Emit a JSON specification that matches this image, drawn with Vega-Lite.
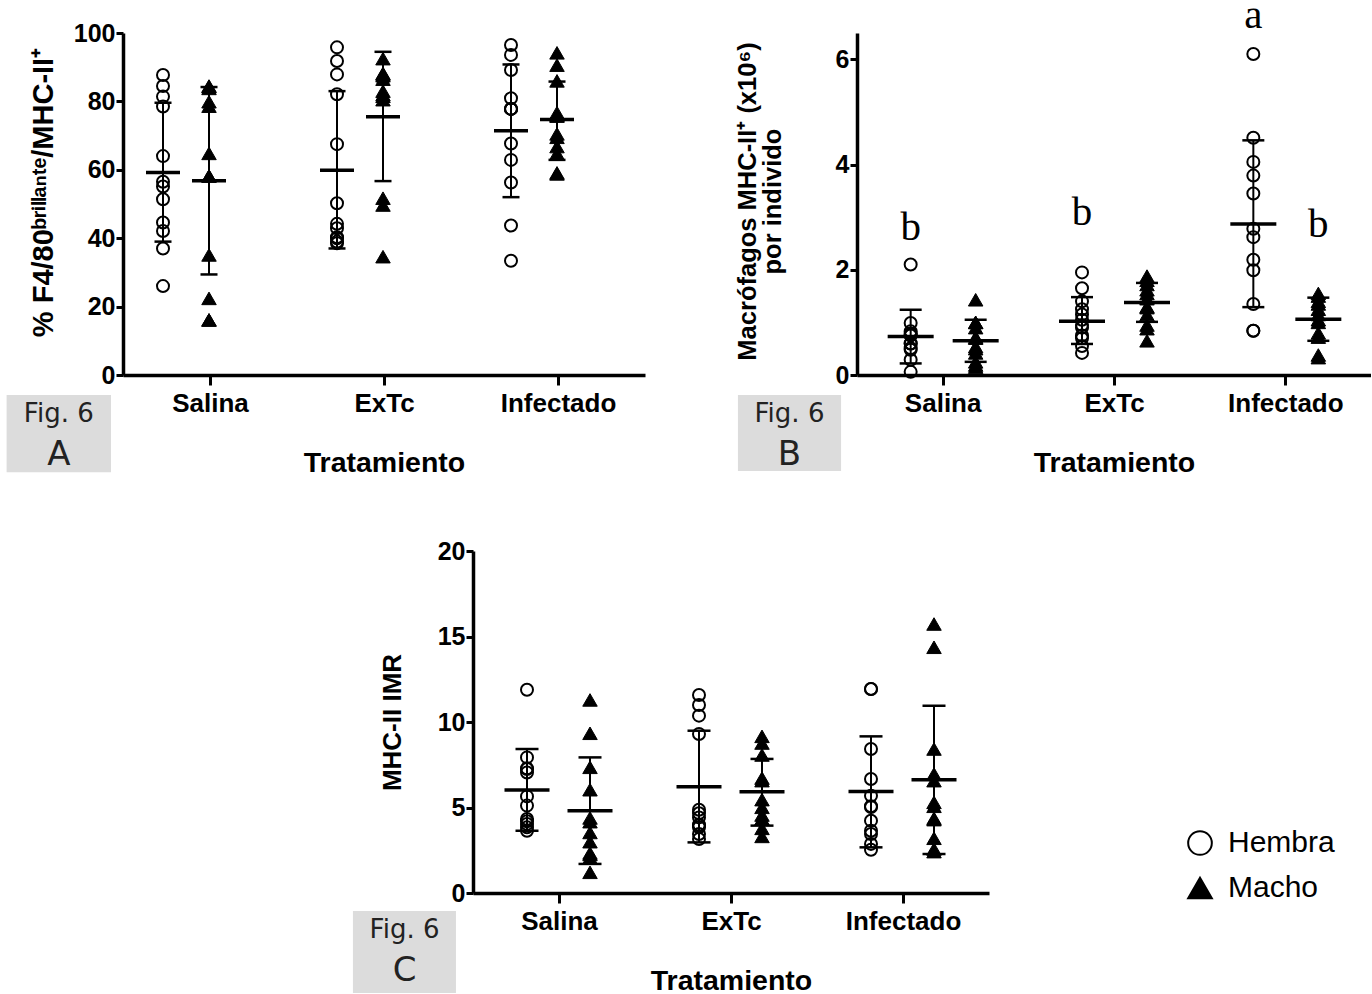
{
  "$schema": "https://vega.github.io/schema/vega-lite/v6.json",
  "background": "white",
  "autosize": {"type": "pad"},
  "padding": {"left": 6, "top": -5, "right": 0, "bottom": 0},
  "config": {
    "view": {"stroke": null},
    "axis": {"domainColor": "black", "domainWidth": 3.5, "tickColor": "black", "tickWidth": 3, "grid": false,
      "labelFont": "Liberation Sans", "labelFontWeight": "bold", "labelColor": "black",
      "titleFont": "Liberation Sans", "titleFontWeight": "bold", "titleColor": "black", "labelFlush": false, "labelOverlap": false},
    "axisX": {"tickSize": 10, "labelFontSize": 26, "labelPadding": 5, "titleFontSize": 28.5, "titlePadding": 32, "labelAngle": 0},
    "axisY": {"tickSize": 7, "labelFontSize": 25, "labelPadding": 1, "titleFontSize": 26}
  },
  "datasets": {
    "ptsA": [
      {"g":1,"sex":"Hembra","v":87.7},{"g":1,"sex":"Hembra","v":84.5},{"g":1,"sex":"Hembra","v":81.4},{"g":1,"sex":"Hembra","v":78.5},{"g":1,"sex":"Hembra","v":64.0},{"g":1,"sex":"Hembra","v":56.5},{"g":1,"sex":"Hembra","v":55.1},{"g":1,"sex":"Hembra","v":51.4},{"g":1,"sex":"Hembra","v":44.6},{"g":1,"sex":"Hembra","v":42.1},{"g":1,"sex":"Hembra","v":37.0},{"g":1,"sex":"Hembra","v":26.0},
      {"g":1,"sex":"Macho","v":84.5},{"g":1,"sex":"Macho","v":84.3},{"g":1,"sex":"Macho","v":83.8},{"g":1,"sex":"Macho","v":79.9},{"g":1,"sex":"Macho","v":78.6},{"g":1,"sex":"Macho","v":64.8},{"g":1,"sex":"Macho","v":58.2},{"g":1,"sex":"Macho","v":58.2},{"g":1,"sex":"Macho","v":35.1},{"g":1,"sex":"Macho","v":22.4},{"g":1,"sex":"Macho","v":16.1},{"g":1,"sex":"Macho","v":16.1},
      {"g":2,"sex":"Hembra","v":95.8},{"g":2,"sex":"Hembra","v":91.8},{"g":2,"sex":"Hembra","v":87.9},{"g":2,"sex":"Hembra","v":82.1},{"g":2,"sex":"Hembra","v":67.5},{"g":2,"sex":"Hembra","v":50.2},{"g":2,"sex":"Hembra","v":44.2},{"g":2,"sex":"Hembra","v":42.9},{"g":2,"sex":"Hembra","v":40.3},{"g":2,"sex":"Hembra","v":40.0},{"g":2,"sex":"Hembra","v":39.0},{"g":2,"sex":"Hembra","v":38.5},
      {"g":2,"sex":"Macho","v":92.5},{"g":2,"sex":"Macho","v":88.2},{"g":2,"sex":"Macho","v":88.0},{"g":2,"sex":"Macho","v":87.5},{"g":2,"sex":"Macho","v":86.5},{"g":2,"sex":"Macho","v":83.0},{"g":2,"sex":"Macho","v":82.0},{"g":2,"sex":"Macho","v":81.5},{"g":2,"sex":"Macho","v":80.5},{"g":2,"sex":"Macho","v":51.7},{"g":2,"sex":"Macho","v":49.7},{"g":2,"sex":"Macho","v":34.6},
      {"g":3,"sex":"Hembra","v":96.5},{"g":3,"sex":"Hembra","v":93.6},{"g":3,"sex":"Hembra","v":89.2},{"g":3,"sex":"Hembra","v":80.9},{"g":3,"sex":"Hembra","v":77.8},{"g":3,"sex":"Hembra","v":77.8},{"g":3,"sex":"Hembra","v":77.8},{"g":3,"sex":"Hembra","v":67.7},{"g":3,"sex":"Hembra","v":62.9},{"g":3,"sex":"Hembra","v":56.3},{"g":3,"sex":"Hembra","v":43.7},{"g":3,"sex":"Hembra","v":33.4},
      {"g":3,"sex":"Macho","v":94.2},{"g":3,"sex":"Macho","v":90.6},{"g":3,"sex":"Macho","v":86.0},{"g":3,"sex":"Macho","v":76.7},{"g":3,"sex":"Macho","v":75.9},{"g":3,"sex":"Macho","v":75.7},{"g":3,"sex":"Macho","v":70.5},{"g":3,"sex":"Macho","v":69.5},{"g":3,"sex":"Macho","v":66.8},{"g":3,"sex":"Macho","v":64.8},{"g":3,"sex":"Macho","v":59.1},{"g":3,"sex":"Macho","v":58.8}
    ],
    "sumA": [
      {"g":1,"sex":"Hembra","mean":59.2,"lo":39.0,"hi":79.6},
      {"g":1,"sex":"Macho","mean":56.8,"lo":29.4,"hi":84.2},
      {"g":2,"sex":"Hembra","mean":59.9,"lo":37.0,"hi":83.0},
      {"g":2,"sex":"Macho","mean":75.5,"lo":56.7,"hi":94.5},
      {"g":3,"sex":"Hembra","mean":71.4,"lo":52.0,"hi":90.8},
      {"g":3,"sex":"Macho","mean":74.7,"lo":62.9,"hi":85.8}
    ],
    "ptsB": [
      {"g":1,"sex":"Hembra","v":2.10},{"g":1,"sex":"Hembra","v":0.99},{"g":1,"sex":"Hembra","v":0.83},{"g":1,"sex":"Hembra","v":0.79},{"g":1,"sex":"Hembra","v":0.76},{"g":1,"sex":"Hembra","v":0.75},{"g":1,"sex":"Hembra","v":0.60},{"g":1,"sex":"Hembra","v":0.60},{"g":1,"sex":"Hembra","v":0.51},{"g":1,"sex":"Hembra","v":0.48},{"g":1,"sex":"Hembra","v":0.29},{"g":1,"sex":"Hembra","v":0.06},
      {"g":1,"sex":"Macho","v":1.43},{"g":1,"sex":"Macho","v":1.00},{"g":1,"sex":"Macho","v":1.00},{"g":1,"sex":"Macho","v":0.90},{"g":1,"sex":"Macho","v":0.72},{"g":1,"sex":"Macho","v":0.70},{"g":1,"sex":"Macho","v":0.54},{"g":1,"sex":"Macho","v":0.50},{"g":1,"sex":"Macho","v":0.42},{"g":1,"sex":"Macho","v":0.25},{"g":1,"sex":"Macho","v":0.19},{"g":1,"sex":"Macho","v":0.15},
      {"g":2,"sex":"Hembra","v":1.95},{"g":2,"sex":"Hembra","v":1.65},{"g":2,"sex":"Hembra","v":1.40},{"g":2,"sex":"Hembra","v":1.25},{"g":2,"sex":"Hembra","v":1.15},{"g":2,"sex":"Hembra","v":1.05},{"g":2,"sex":"Hembra","v":0.95},{"g":2,"sex":"Hembra","v":0.90},{"g":2,"sex":"Hembra","v":0.75},{"g":2,"sex":"Hembra","v":0.70},{"g":2,"sex":"Hembra","v":0.55},{"g":2,"sex":"Hembra","v":0.42},
      {"g":2,"sex":"Macho","v":1.88},{"g":2,"sex":"Macho","v":1.80},{"g":2,"sex":"Macho","v":1.72},{"g":2,"sex":"Macho","v":1.62},{"g":2,"sex":"Macho","v":1.55},{"g":2,"sex":"Macho","v":1.45},{"g":2,"sex":"Macho","v":1.30},{"g":2,"sex":"Macho","v":1.28},{"g":2,"sex":"Macho","v":1.15},{"g":2,"sex":"Macho","v":0.95},{"g":2,"sex":"Macho","v":0.88},{"g":2,"sex":"Macho","v":0.65},
      {"g":3,"sex":"Hembra","v":6.10},{"g":3,"sex":"Hembra","v":4.51},{"g":3,"sex":"Hembra","v":4.05},{"g":3,"sex":"Hembra","v":3.79},{"g":3,"sex":"Hembra","v":3.45},{"g":3,"sex":"Hembra","v":2.78},{"g":3,"sex":"Hembra","v":2.62},{"g":3,"sex":"Hembra","v":2.19},{"g":3,"sex":"Hembra","v":1.99},{"g":3,"sex":"Hembra","v":1.35},{"g":3,"sex":"Hembra","v":0.84},{"g":3,"sex":"Hembra","v":0.84},
      {"g":3,"sex":"Macho","v":1.55},{"g":3,"sex":"Macho","v":1.50},{"g":3,"sex":"Macho","v":1.40},{"g":3,"sex":"Macho","v":1.35},{"g":3,"sex":"Macho","v":1.25},{"g":3,"sex":"Macho","v":1.15},{"g":3,"sex":"Macho","v":1.05},{"g":3,"sex":"Macho","v":1.00},{"g":3,"sex":"Macho","v":0.80},{"g":3,"sex":"Macho","v":0.72},{"g":3,"sex":"Macho","v":0.38},{"g":3,"sex":"Macho","v":0.33}
    ],
    "sumB": [
      {"g":1,"sex":"Hembra","mean":0.73,"lo":0.22,"hi":1.24},
      {"g":1,"sex":"Macho","mean":0.65,"lo":0.25,"hi":1.05},
      {"g":2,"sex":"Hembra","mean":1.02,"lo":0.59,"hi":1.48},
      {"g":2,"sex":"Macho","mean":1.38,"lo":1.01,"hi":1.75},
      {"g":3,"sex":"Hembra","mean":2.87,"lo":1.29,"hi":4.46},
      {"g":3,"sex":"Macho","mean":1.06,"lo":0.65,"hi":1.47}
    ],
    "letB": [
      {"g":1,"sex":"Hembra","v":2.57,"t":"b"},
      {"g":2,"sex":"Hembra","v":2.86,"t":"b"},
      {"g":3,"sex":"Hembra","v":6.59,"t":"a"},
      {"g":3,"sex":"Macho","v":2.63,"t":"b"}
    ],
    "ptsC": [
      {"g":1,"sex":"Hembra","v":11.89},{"g":1,"sex":"Hembra","v":7.93},{"g":1,"sex":"Hembra","v":7.29},{"g":1,"sex":"Hembra","v":7.25},{"g":1,"sex":"Hembra","v":7.05},{"g":1,"sex":"Hembra","v":5.65},{"g":1,"sex":"Hembra","v":5.11},{"g":1,"sex":"Hembra","v":4.33},{"g":1,"sex":"Hembra","v":4.20},{"g":1,"sex":"Hembra","v":4.04},{"g":1,"sex":"Hembra","v":3.84},{"g":1,"sex":"Hembra","v":3.64},
      {"g":1,"sex":"Macho","v":11.29},{"g":1,"sex":"Macho","v":9.34},{"g":1,"sex":"Macho","v":7.35},{"g":1,"sex":"Macho","v":6.04},{"g":1,"sex":"Macho","v":4.39},{"g":1,"sex":"Macho","v":4.17},{"g":1,"sex":"Macho","v":3.54},{"g":1,"sex":"Macho","v":3.00},{"g":1,"sex":"Macho","v":2.34},{"g":1,"sex":"Macho","v":2.25},{"g":1,"sex":"Macho","v":2.06},{"g":1,"sex":"Macho","v":1.21},
      {"g":2,"sex":"Hembra","v":11.58},{"g":2,"sex":"Hembra","v":10.99},{"g":2,"sex":"Hembra","v":10.37},{"g":2,"sex":"Hembra","v":9.30},{"g":2,"sex":"Hembra","v":4.87},{"g":2,"sex":"Hembra","v":4.66},{"g":2,"sex":"Hembra","v":4.42},{"g":2,"sex":"Hembra","v":4.00},{"g":2,"sex":"Hembra","v":3.95},{"g":2,"sex":"Hembra","v":3.84},{"g":2,"sex":"Hembra","v":3.45},{"g":2,"sex":"Hembra","v":3.16},
      {"g":2,"sex":"Macho","v":9.16},{"g":2,"sex":"Macho","v":8.77},{"g":2,"sex":"Macho","v":8.07},{"g":2,"sex":"Macho","v":6.72},{"g":2,"sex":"Macho","v":6.57},{"g":2,"sex":"Macho","v":5.46},{"g":2,"sex":"Macho","v":5.01},{"g":2,"sex":"Macho","v":4.56},{"g":2,"sex":"Macho","v":4.33},{"g":2,"sex":"Macho","v":4.33},{"g":2,"sex":"Macho","v":3.78},{"g":2,"sex":"Macho","v":3.31},
      {"g":3,"sex":"Hembra","v":11.93},{"g":3,"sex":"Hembra","v":11.93},{"g":3,"sex":"Hembra","v":8.42},{"g":3,"sex":"Hembra","v":6.67},{"g":3,"sex":"Hembra","v":5.69},{"g":3,"sex":"Hembra","v":5.07},{"g":3,"sex":"Hembra","v":5.03},{"g":3,"sex":"Hembra","v":4.23},{"g":3,"sex":"Hembra","v":3.64},{"g":3,"sex":"Hembra","v":3.45},{"g":3,"sex":"Hembra","v":2.87},{"g":3,"sex":"Hembra","v":2.53},
      {"g":3,"sex":"Macho","v":15.73},{"g":3,"sex":"Macho","v":14.37},{"g":3,"sex":"Macho","v":8.42},{"g":3,"sex":"Macho","v":6.96},{"g":3,"sex":"Macho","v":6.57},{"g":3,"sex":"Macho","v":5.30},{"g":3,"sex":"Macho","v":5.07},{"g":3,"sex":"Macho","v":4.37},{"g":3,"sex":"Macho","v":4.29},{"g":3,"sex":"Macho","v":3.20},{"g":3,"sex":"Macho","v":2.57},{"g":3,"sex":"Macho","v":2.42}
    ],
    "sumC": [
      {"g":1,"sex":"Hembra","mean":6.02,"lo":3.64,"hi":8.42},
      {"g":1,"sex":"Macho","mean":4.81,"lo":1.70,"hi":7.93},
      {"g":2,"sex":"Hembra","mean":6.22,"lo":2.96,"hi":9.49},
      {"g":2,"sex":"Macho","mean":5.92,"lo":3.94,"hi":7.84},
      {"g":3,"sex":"Hembra","mean":5.94,"lo":2.67,"hi":9.16},
      {"g":3,"sex":"Macho","mean":6.63,"lo":2.28,"hi":10.95}
    ]
  },
  "bounds": "full",
  "spacing": 62,
  "resolve": {"scale": {"shape": "independent", "fill": "independent", "stroke": "independent"}, "legend": {"shape": "independent", "fill": "independent", "stroke": "independent"}},
  "vconcat": [
    {
      "bounds": "flush",
      "spacing": 212,
      "resolve": {"scale": {"shape": "independent", "fill": "independent", "stroke": "independent"}, "legend": {"shape": "independent", "fill": "independent", "stroke": "independent"}},
      "hconcat": [
        {
          "width": 522, "height": 342,
          "layer": [
            {"data": {"name": "ptsA"}, "transform": [{"filter": "datum.sex == 'Hembra'"}],
             "mark": {"type": "point", "size": 144, "strokeWidth": 2, "opacity": 1, "xOffset": -47},
             "encoding": {
               "x": {"field": "g", "type": "quantitative", "scale": {"domain": [0.5, 3.5], "nice": false, "zero": false},
                     "axis": {"title": "Tratamiento", "values": [1, 2, 3], "labelExpr": "datum.value == 1 ? 'Salina' : datum.value == 2 ? 'ExTc' : 'Infectado'"}},
               "y": {"field": "v", "type": "quantitative", "scale": {"domain": [0, 100], "nice": false},
                     "axis": {"title": "% F4/80ᵇʳⁱˡˡᵃⁿᵗᵉ/MHC-II⁺", "titleFontSize": 29, "values": [0, 20, 40, 60, 80, 100], "titleX": -80, "titleY": 159, "titleAngle": 270, "titleAlign": "center", "titleBaseline": "middle"}},
               "shape": {"field": "sex", "type": "nominal", "scale": {"domain": ["Hembra", "Macho"], "range": ["circle", "triangle-up"]}, "legend": null},
               "fill": {"field": "sex", "type": "nominal", "scale": {"domain": ["Hembra", "Macho"], "range": ["transparent", "black"]}, "legend": null},
               "stroke": {"field": "sex", "type": "nominal", "scale": {"domain": ["Hembra", "Macho"], "range": ["black", "black"]}, "legend": null}
             }},
            {"data": {"name": "ptsA"}, "transform": [{"filter": "datum.sex == 'Macho'"}],
             "mark": {"type": "point", "size": 210, "strokeWidth": 1, "opacity": 1, "xOffset": -1},
             "encoding": {
               "x": {"field": "g", "type": "quantitative"},
               "y": {"field": "v", "type": "quantitative"},
               "shape": {"field": "sex", "type": "nominal", "legend": null},
               "fill": {"field": "sex", "type": "nominal", "legend": null},
               "stroke": {"field": "sex", "type": "nominal", "legend": null}
             }},
            {"data": {"name": "sumA"}, "transform": [{"filter": "datum.sex == 'Hembra'"}],
             "encoding": {"x": {"field": "g", "type": "quantitative"}},
             "layer": [
               {"mark": {"type": "rule", "color": "black", "strokeWidth": 2, "xOffset": -47}, "encoding": {"y": {"field": "lo", "type": "quantitative"}, "y2": {"field": "hi"}}},
               {"mark": {"type": "tick", "orient": "horizontal", "color": "black", "opacity": 1, "size": 34, "thickness": 3.5, "xOffset": -47}, "encoding": {"y": {"field": "mean", "type": "quantitative"}}},
               {"mark": {"type": "tick", "orient": "horizontal", "color": "black", "opacity": 1, "size": 17, "thickness": 2.5, "xOffset": -47}, "encoding": {"y": {"field": "lo", "type": "quantitative"}}},
               {"mark": {"type": "tick", "orient": "horizontal", "color": "black", "opacity": 1, "size": 17, "thickness": 2.5, "xOffset": -47}, "encoding": {"y": {"field": "hi", "type": "quantitative"}}}
             ]},
            {"data": {"name": "sumA"}, "transform": [{"filter": "datum.sex == 'Macho'"}],
             "encoding": {"x": {"field": "g", "type": "quantitative"}},
             "layer": [
               {"mark": {"type": "rule", "color": "black", "strokeWidth": 2, "xOffset": -1}, "encoding": {"y": {"field": "lo", "type": "quantitative"}, "y2": {"field": "hi"}}},
               {"mark": {"type": "tick", "orient": "horizontal", "color": "black", "opacity": 1, "size": 34, "thickness": 3.5, "xOffset": -1}, "encoding": {"y": {"field": "mean", "type": "quantitative"}}},
               {"mark": {"type": "tick", "orient": "horizontal", "color": "black", "opacity": 1, "size": 17, "thickness": 2.5, "xOffset": -1}, "encoding": {"y": {"field": "lo", "type": "quantitative"}}},
               {"mark": {"type": "tick", "orient": "horizontal", "color": "black", "opacity": 1, "size": 17, "thickness": 2.5, "xOffset": -1}, "encoding": {"y": {"field": "hi", "type": "quantitative"}}}
             ]},
            {"data": {"values": [{}]}, "mark": {"type": "rect", "fill": "#dcdcdc"},
             "encoding": {"x": {"datum": -0.169, "type": "quantitative"}, "x2": {"datum": 0.431}, "y": {"datum": -5.85, "type": "quantitative"}, "y2": {"datum": -28.4}}},
            {"data": {"values": [{}]}, "mark": {"type": "text", "text": "Fig. 6", "font": "DejaVu Sans", "fontSize": 26, "fill": "#222", "align": "center", "baseline": "alphabetic"},
             "encoding": {"x": {"datum": 0.131, "type": "quantitative"}, "y": {"datum": -13.65, "type": "quantitative"}}},
            {"data": {"values": [{}]}, "mark": {"type": "text", "text": "A", "font": "DejaVu Sans", "fontSize": 34, "fill": "#222", "align": "center", "baseline": "alphabetic"},
             "encoding": {"x": {"datum": 0.131, "type": "quantitative"}, "y": {"datum": -26.3, "type": "quantitative"}}}
          ]
        },
        {
          "width": 514, "height": 342,
          "layer": [
            {"data": {"name": "ptsB"}, "transform": [{"filter": "datum.sex == 'Hembra'"}],
             "mark": {"type": "point", "size": 144, "strokeWidth": 2, "opacity": 1, "xOffset": -32},
             "encoding": {
               "x": {"field": "g", "type": "quantitative", "scale": {"domain": [0.5, 3.5], "nice": false, "zero": false},
                     "axis": {"title": "Tratamiento", "values": [1, 2, 3], "labelExpr": "datum.value == 1 ? 'Salina' : datum.value == 2 ? 'ExTc' : 'Infectado'"}},
               "y": {"field": "v", "type": "quantitative", "scale": {"domain": [0, 6.5], "nice": false},
                     "axis": {"title": ["Macrófagos MHC-II⁺ (x10⁶)", "por individo"], "titleFontSize": 25.5, "values": [0, 2, 4, 6], "titleX": -110, "titleY": 168, "titleAngle": 270, "titleAlign": "center", "titleBaseline": "middle", "titleLineHeight": 25}},
               "shape": {"field": "sex", "type": "nominal", "scale": {"domain": ["Hembra", "Macho"], "range": ["circle", "triangle-up"]}, "legend": null},
               "fill": {"field": "sex", "type": "nominal", "scale": {"domain": ["Hembra", "Macho"], "range": ["transparent", "black"]}, "legend": null},
               "stroke": {"field": "sex", "type": "nominal", "scale": {"domain": ["Hembra", "Macho"], "range": ["black", "black"]}, "legend": null}
             }},
            {"data": {"name": "ptsB"}, "transform": [{"filter": "datum.sex == 'Macho'"}],
             "mark": {"type": "point", "size": 210, "strokeWidth": 1, "opacity": 1, "xOffset": 33},
             "encoding": {
               "x": {"field": "g", "type": "quantitative"},
               "y": {"field": "v", "type": "quantitative"},
               "shape": {"field": "sex", "type": "nominal", "legend": null},
               "fill": {"field": "sex", "type": "nominal", "legend": null},
               "stroke": {"field": "sex", "type": "nominal", "legend": null}
             }},
            {"data": {"name": "sumB"}, "transform": [{"filter": "datum.sex == 'Hembra'"}],
             "encoding": {"x": {"field": "g", "type": "quantitative"}},
             "layer": [
               {"mark": {"type": "rule", "color": "black", "strokeWidth": 2, "xOffset": -32}, "encoding": {"y": {"field": "lo", "type": "quantitative"}, "y2": {"field": "hi"}}},
               {"mark": {"type": "tick", "orient": "horizontal", "color": "black", "opacity": 1, "size": 46, "thickness": 3.5, "xOffset": -32}, "encoding": {"y": {"field": "mean", "type": "quantitative"}}},
               {"mark": {"type": "tick", "orient": "horizontal", "color": "black", "opacity": 1, "size": 22, "thickness": 2.5, "xOffset": -32}, "encoding": {"y": {"field": "lo", "type": "quantitative"}}},
               {"mark": {"type": "tick", "orient": "horizontal", "color": "black", "opacity": 1, "size": 22, "thickness": 2.5, "xOffset": -32}, "encoding": {"y": {"field": "hi", "type": "quantitative"}}}
             ]},
            {"data": {"name": "sumB"}, "transform": [{"filter": "datum.sex == 'Macho'"}],
             "encoding": {"x": {"field": "g", "type": "quantitative"}},
             "layer": [
               {"mark": {"type": "rule", "color": "black", "strokeWidth": 2, "xOffset": 33}, "encoding": {"y": {"field": "lo", "type": "quantitative"}, "y2": {"field": "hi"}}},
               {"mark": {"type": "tick", "orient": "horizontal", "color": "black", "opacity": 1, "size": 46, "thickness": 3.5, "xOffset": 33}, "encoding": {"y": {"field": "mean", "type": "quantitative"}}},
               {"mark": {"type": "tick", "orient": "horizontal", "color": "black", "opacity": 1, "size": 22, "thickness": 2.5, "xOffset": 33}, "encoding": {"y": {"field": "lo", "type": "quantitative"}}},
               {"mark": {"type": "tick", "orient": "horizontal", "color": "black", "opacity": 1, "size": 22, "thickness": 2.5, "xOffset": 33}, "encoding": {"y": {"field": "hi", "type": "quantitative"}}}
             ]},
            {"data": {"name": "letB"}, "transform": [{"filter": "datum.sex == 'Hembra'"}],
             "mark": {"type": "text", "font": "Liberation Serif", "fontSize": 41, "fill": "black", "align": "center", "baseline": "alphabetic", "xOffset": -32},
             "encoding": {"x": {"field": "g", "type": "quantitative"}, "y": {"field": "v", "type": "quantitative"}, "text": {"field": "t"}}},
            {"data": {"name": "letB"}, "transform": [{"filter": "datum.sex == 'Macho'"}],
             "mark": {"type": "text", "font": "Liberation Serif", "fontSize": 41, "fill": "black", "align": "center", "baseline": "alphabetic", "xOffset": 33},
             "encoding": {"x": {"field": "g", "type": "quantitative"}, "y": {"field": "v", "type": "quantitative"}, "text": {"field": "t"}}},
            {"data": {"values": [{}]}, "mark": {"type": "rect", "fill": "#dcdcdc"},
             "encoding": {"x": {"datum": -0.195, "type": "quantitative"}, "x2": {"datum": 0.407}, "y": {"datum": -0.38, "type": "quantitative"}, "y2": {"datum": -1.825}}},
            {"data": {"values": [{}]}, "mark": {"type": "text", "text": "Fig. 6", "font": "DejaVu Sans", "fontSize": 26, "fill": "#222", "align": "center", "baseline": "alphabetic"},
             "encoding": {"x": {"datum": 0.106, "type": "quantitative"}, "y": {"datum": -0.888, "type": "quantitative"}}},
            {"data": {"values": [{}]}, "mark": {"type": "text", "text": "B", "font": "DejaVu Sans", "fontSize": 34, "fill": "#222", "align": "center", "baseline": "alphabetic"},
             "encoding": {"x": {"datum": 0.106, "type": "quantitative"}, "y": {"datum": -1.71, "type": "quantitative"}}}
          ]
        }
      ]
    },
    {
      "bounds": "flush",
      "spacing": 349,
      "resolve": {"scale": {"shape": "independent", "fill": "independent", "stroke": "independent"}, "legend": {"shape": "independent", "fill": "independent", "stroke": "independent"}},
      "hconcat": [
        {"width": 1, "height": 1, "data": {"values": []}, "mark": {"type": "point", "opacity": 0}, "encoding": {}},
        {
          "width": 516, "height": 342,
          "layer": [
            {"data": {"name": "ptsC"}, "transform": [{"filter": "datum.sex == 'Hembra'"}],
             "mark": {"type": "point", "size": 144, "strokeWidth": 2, "opacity": 1, "xOffset": -32},
             "encoding": {
               "x": {"field": "g", "type": "quantitative", "scale": {"domain": [0.5, 3.5], "nice": false, "zero": false},
                     "axis": {"title": "Tratamiento", "values": [1, 2, 3], "labelExpr": "datum.value == 1 ? 'Salina' : datum.value == 2 ? 'ExTc' : 'Infectado'"}},
               "y": {"field": "v", "type": "quantitative", "scale": {"domain": [0, 20], "nice": false},
                     "axis": {"title": "MHC-II IMR", "titleFontSize": 26, "values": [0, 5, 10, 15, 20], "titleX": -81, "titleY": 171, "titleAngle": 270, "titleAlign": "center", "titleBaseline": "middle"}},
               "shape": {"field": "sex", "type": "nominal", "scale": {"domain": ["Hembra", "Macho"], "range": ["circle", "triangle-up"]},
                         "legend": {"title": null, "orient": "none", "legendX": 712, "legendY": 277, "padding": 0, "symbolSize": 560, "symbolStrokeWidth": 2, "labelFont": "Liberation Sans", "labelFontSize": 30, "labelColor": "black", "labelOffset": 13, "rowPadding": 14}},
               "fill": {"field": "sex", "type": "nominal", "scale": {"domain": ["Hembra", "Macho"], "range": ["transparent", "black"]},
                         "legend": {"title": null, "orient": "none", "legendX": 712, "legendY": 277, "padding": 0, "symbolSize": 560, "symbolStrokeWidth": 2, "labelFont": "Liberation Sans", "labelFontSize": 30, "labelColor": "black", "labelOffset": 13, "rowPadding": 14}},
               "stroke": {"field": "sex", "type": "nominal", "scale": {"domain": ["Hembra", "Macho"], "range": ["black", "black"]},
                         "legend": {"title": null, "orient": "none", "legendX": 712, "legendY": 277, "padding": 0, "symbolSize": 560, "symbolStrokeWidth": 2, "labelFont": "Liberation Sans", "labelFontSize": 30, "labelColor": "black", "labelOffset": 13, "rowPadding": 14}}
             }},
            {"data": {"name": "ptsC"}, "transform": [{"filter": "datum.sex == 'Macho'"}],
             "mark": {"type": "point", "size": 210, "strokeWidth": 1, "opacity": 1, "xOffset": 31},
             "encoding": {
               "x": {"field": "g", "type": "quantitative"},
               "y": {"field": "v", "type": "quantitative"},
               "shape": {"field": "sex", "type": "nominal"},
               "fill": {"field": "sex", "type": "nominal"},
               "stroke": {"field": "sex", "type": "nominal"}
             }},
            {"data": {"name": "sumC"}, "transform": [{"filter": "datum.sex == 'Hembra'"}],
             "encoding": {"x": {"field": "g", "type": "quantitative"}},
             "layer": [
               {"mark": {"type": "rule", "color": "black", "strokeWidth": 2, "xOffset": -32}, "encoding": {"y": {"field": "lo", "type": "quantitative"}, "y2": {"field": "hi"}}},
               {"mark": {"type": "tick", "orient": "horizontal", "color": "black", "opacity": 1, "size": 45, "thickness": 3.5, "xOffset": -32}, "encoding": {"y": {"field": "mean", "type": "quantitative"}}},
               {"mark": {"type": "tick", "orient": "horizontal", "color": "black", "opacity": 1, "size": 23, "thickness": 2.5, "xOffset": -32}, "encoding": {"y": {"field": "lo", "type": "quantitative"}}},
               {"mark": {"type": "tick", "orient": "horizontal", "color": "black", "opacity": 1, "size": 23, "thickness": 2.5, "xOffset": -32}, "encoding": {"y": {"field": "hi", "type": "quantitative"}}}
             ]},
            {"data": {"name": "sumC"}, "transform": [{"filter": "datum.sex == 'Macho'"}],
             "encoding": {"x": {"field": "g", "type": "quantitative"}},
             "layer": [
               {"mark": {"type": "rule", "color": "black", "strokeWidth": 2, "xOffset": 31}, "encoding": {"y": {"field": "lo", "type": "quantitative"}, "y2": {"field": "hi"}}},
               {"mark": {"type": "tick", "orient": "horizontal", "color": "black", "opacity": 1, "size": 45, "thickness": 3.5, "xOffset": 31}, "encoding": {"y": {"field": "mean", "type": "quantitative"}}},
               {"mark": {"type": "tick", "orient": "horizontal", "color": "black", "opacity": 1, "size": 23, "thickness": 2.5, "xOffset": 31}, "encoding": {"y": {"field": "lo", "type": "quantitative"}}},
               {"mark": {"type": "tick", "orient": "horizontal", "color": "black", "opacity": 1, "size": 23, "thickness": 2.5, "xOffset": 31}, "encoding": {"y": {"field": "hi", "type": "quantitative"}}}
             ]},
            {"data": {"values": [{}]}, "mark": {"type": "rect", "fill": "#dcdcdc"},
             "encoding": {"x": {"datum": -0.198, "type": "quantitative"}, "x2": {"datum": 0.401}, "y": {"datum": -1.05, "type": "quantitative"}, "y2": {"datum": -5.85}}},
            {"data": {"values": [{}]}, "mark": {"type": "text", "text": "Fig. 6", "font": "DejaVu Sans", "fontSize": 26, "fill": "#222", "align": "center", "baseline": "alphabetic"},
             "encoding": {"x": {"datum": 0.102, "type": "quantitative"}, "y": {"datum": -2.62, "type": "quantitative"}}},
            {"data": {"values": [{}]}, "mark": {"type": "text", "text": "C", "font": "DejaVu Sans", "fontSize": 34, "fill": "#222", "align": "center", "baseline": "alphabetic"},
             "encoding": {"x": {"datum": 0.102, "type": "quantitative"}, "y": {"datum": -5.15, "type": "quantitative"}}}
          ]
        }
      ]
    }
  ]
}
